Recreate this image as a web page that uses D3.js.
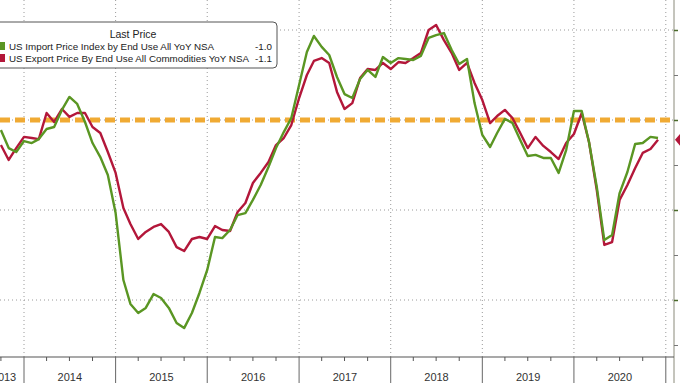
<!DOCTYPE html>
<html>
<head>
<meta charset="utf-8">
<script src="https://cdn.jsdelivr.net/npm/d3@7"></script>
<style>
  html, body { margin: 0; padding: 0; background: #fff; }
  svg { display: block; }
  text { font-family: "Liberation Sans", Arial, sans-serif; }
</style>
</head>
<body>
<svg id="chart" width="680" height="383"></svg>
<script>
// ---- Data (monthly, month-end values, first point = Sep 2013) ----
const startMonth = "2013-09";
const importYoY = [
  -0.56, -1.56, -1.78, -1.17, -1.28, -1.06, -0.50, -0.39, 0.56, 1.28, 0.89, -0.11,
  -1.28, -2.06, -3.06, -5.17, -8.89, -10.22, -10.72, -10.44, -9.67, -9.89, -10.44, -11.28,
  -11.56, -10.72, -9.61, -8.33, -6.50, -6.56, -6.11, -5.28, -5.17, -4.44, -3.61, -2.61,
  -1.56, -0.67, 0.11, 1.94, 3.78, 4.67, 4.06, 3.61, 2.39, 1.44, 1.22, 2.28,
  2.78, 2.39, 3.50, 3.17, 3.44, 3.39, 3.33, 3.56, 4.56, 4.72, 4.83, 3.89,
  3.11, 3.39, 0.94, -0.83, -1.50, -0.72, 0.06, -0.17, -1.11, -2.00, -1.94, -2.11,
  -2.11, -2.94, -1.67, 0.50, 0.50, -1.22, -3.72, -6.67, -6.39, -4.06, -2.89, -1.33,
  -1.28, -0.94, -1.0
];
const exportYoY = [
  -1.39, -2.22, -1.56, -0.94, -1.00, -1.06, 0.39, -0.11, 0.61, 0.17, 0.39, 0.39,
  -0.39, -0.72, -1.78, -2.94, -4.89, -5.78, -6.61, -6.22, -5.94, -5.78, -6.22, -7.06,
  -7.28, -6.61, -6.50, -6.61, -5.89, -6.11, -6.17, -5.11, -4.61, -3.50, -2.94, -2.33,
  -1.39, -1.00, -0.28, 1.22, 2.50, 3.28, 3.44, 3.17, 1.56, 0.61, 0.94, 2.33,
  2.83, 2.78, 3.17, 2.83, 3.22, 3.17, 3.44, 3.72, 5.00, 5.28, 4.44, 3.72,
  2.78, 3.17, 2.06, 1.11, -0.17, 0.22, 0.56, 0.11, -0.72, -1.56, -0.94, -1.44,
  -1.78, -2.17, -1.28, -0.78, 0.39, -1.22, -3.89, -6.94, -6.78, -4.44, -3.61, -2.67,
  -1.83, -1.61, -1.1
];
const seriesNames = [
  "US Import Price Index by End Use All YoY NSA",
  "US Export Price By End Use All Commodities YoY NSA"
];
const lastLabels = ["-1.0", "-1.1"];
const legendTitle = "Last Price";
const yearLabels = ["2013", "2014", "2015", "2016", "2017", "2018", "2019", "2020"];
const rightTicks = [5, 2.5, 0, -2.5, -5, -7.5, -10, -12.5];
const gridValues = [5, 0, -5, -10];
const colors = ["#5a9623", "#b3173a"];

// ---- Layout ----
const W = 680, H = 383;
const plotRight = 674, plotBottom = 357, plotLeft = 0;
const svg = d3.select("#chart");

const x = d3.scaleTime()
  .domain([new Date(2014, 0, 1), new Date(2021, 0, 1)])
  .range([24, 665.8]);
const y = d3.scaleLinear().domain([-10, 5]).range([300, 30]);

const parse = d3.timeParse("%Y-%m");
const t0 = parse(startMonth);
// month-end plotting: point sits at start of following month
const dateAt = i => d3.timeMonth.offset(t0, i + 1);

const mk = arr => arr.map((v, i) => ({ d: dateAt(i), v }));
const data = [mk(importYoY), mk(exportYoY)];

svg.append("defs").append("clipPath").attr("id", "clip")
  .append("rect").attr("x", plotLeft).attr("y", 0)
  .attr("width", plotRight - plotLeft).attr("height", plotBottom);

// ---- Gridlines ----
const years = d3.range(2014, 2022).map(yr => new Date(yr, 0, 1));
const grid = svg.append("g");
grid.selectAll("line.v").data(years).join("line")
  .attr("x1", d => x(d)).attr("x2", d => x(d))
  .attr("y1", 0).attr("y2", plotBottom)
  .attr("stroke", "#9a9a9a").attr("stroke-width", 1)
  .attr("stroke-dasharray", "1,3");
grid.selectAll("line.h").data(gridValues).join("line")
  .attr("x1", plotLeft).attr("x2", plotRight)
  .attr("y1", d => y(d)).attr("y2", d => y(d))
  .attr("stroke", "#9a9a9a").attr("stroke-width", 1)
  .attr("stroke-dasharray", "1,3");

// ---- Zero reference (orange dashed) ----
svg.append("line")
  .attr("x1", plotLeft).attr("x2", plotRight)
  .attr("y1", y(0)).attr("y2", y(0))
  .attr("stroke", "#f0aa33").attr("stroke-width", 5)
  .attr("stroke-dasharray", "10,5");

// ---- Lines ----
const line = d3.line().x(d => x(d.d)).y(d => y(d.v));
const lines = svg.append("g").attr("clip-path", "url(#clip)");
[1, 0].forEach(k => {
  lines.append("path").datum(data[k])
    .attr("fill", "none").attr("stroke", colors[k])
    .attr("stroke-width", 2.4).attr("stroke-linejoin", "round")
    .attr("d", line);
});

// ---- Right border & axis ticks ----
svg.append("line")
  .attr("x1", plotRight).attr("x2", plotRight).attr("y1", 0).attr("y2", H)
  .attr("stroke", "#8a8a7a").attr("stroke-width", 1);
const rAxis = svg.append("g").attr("transform", `translate(${plotRight},0)`)
  .call(d3.axisRight(y).tickValues(rightTicks).tickSize(4).tickFormat(""));
rAxis.select(".domain").remove();
rAxis.selectAll(".tick line").attr("stroke", (d) => (d % 5 === 0 ? "#4a6a2a" : "#777"))
  .attr("stroke-width", (d) => (d % 5 === 0 ? 1.5 : 1));

// last value marker (red, cut by frame)
const ly = y(exportYoY[exportYoY.length - 1]);
svg.append("path")
  .attr("d", `M${plotRight + 1},${ly} L${plotRight + 7},${ly - 7} L${plotRight + 30},${ly - 7} L${plotRight + 30},${ly + 7} L${plotRight + 7},${ly + 7} Z`)
  .attr("fill", colors[1]);

// ---- Bottom axis ----
svg.append("line")
  .attr("x1", plotLeft).attr("x2", plotRight).attr("y1", plotBottom).attr("y2", plotBottom)
  .attr("stroke", "#555").attr("stroke-width", 1.2);
const quarters = d3.timeMonth.every(3).range(new Date(2013, 6, 1), new Date(2021, 0, 2))
  .filter(d => d.getMonth() !== 0);
svg.selectAll("line.q").data(quarters).join("line")
  .attr("x1", d => x(d)).attr("x2", d => x(d))
  .attr("y1", plotBottom).attr("y2", plotBottom + 4)
  .attr("stroke", "#555");
svg.selectAll("line.ys").data(years).join("line")
  .attr("x1", d => x(d)).attr("x2", d => x(d))
  .attr("y1", plotBottom).attr("y2", H)
  .attr("stroke", "#666");
const leftEdgeX = -16;
svg.selectAll("text.yr").data(yearLabels).join("text")
  .attr("x", (d) => {
    const yr = +d;
    const a = Math.max(leftEdgeX, x(new Date(yr, 0, 1)));
    const b = x(new Date(yr + 1, 0, 1));
    return (a + b) / 2;
  })
  .attr("y", 381)
  .attr("text-anchor", "middle")
  .attr("font-size", 11)
  .attr("fill", "#333")
  .text(d => d);

// ---- Legend ----
const lg = svg.append("g");
lg.append("rect").attr("x", -6).attr("y", 22).attr("width", 283).attr("height", 46)
  .attr("rx", 4).attr("fill", "#fff").attr("stroke", "#555").attr("stroke-width", 1);
lg.append("text").attr("x", 133).attr("y", 38).attr("text-anchor", "middle")
  .attr("font-size", 10.5).attr("fill", "#222").text(legendTitle);
seriesNames.forEach((nm, i) => {
  const cy = 46 + i * 12;
  lg.append("rect").attr("x", -4).attr("y", cy - 4).attr("width", 9).attr("height", 8)
    .attr("fill", colors[i]);
  lg.append("text").attr("x", 9).attr("y", cy + 4)
    .attr("font-size", 9.8).attr("fill", "#222").text(nm);
  lg.append("text").attr("x", 272).attr("y", cy + 4).attr("text-anchor", "end")
    .attr("font-size", 9.8).attr("fill", "#222").text(lastLabels[i]);
});
</script>
</body>
</html>
